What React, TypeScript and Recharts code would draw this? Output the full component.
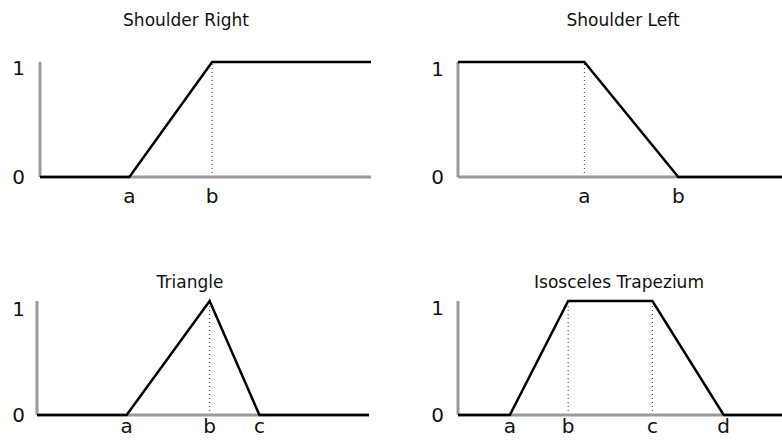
import React from "react";
import { LineChart, Line, XAxis, YAxis, ReferenceLine } from "recharts";

// Shoulder Right
const srX = [0, 2.7, 5.2, 10];
const srY = [0, 0, 1, 1];
const srTicks = [2.7, 5.2];
const srLabels = ["a", "b"];
const srGuides = [5.2];

// Shoulder Left
const slX = [0, 3.9, 6.8, 10];
const slY = [1, 1, 0, 0];
const slTicks = [3.9, 6.8];
const slLabels = ["a", "b"];
const slGuides = [3.9];

// Triangle
const triX = [0, 2.7, 5.2, 6.7, 10];
const triY = [0, 0, 1, 0, 0];
const triTicks = [2.7, 5.2, 6.7];
const triLabels = ["a", "b", "c"];
const triGuides = [5.2];

// Isosceles Trapezium
const trapX = [0, 1.6, 3.4, 6.0, 8.2, 10];
const trapY = [0, 0, 1, 1, 0, 0];
const trapTicks = [1.6, 3.4, 6.0, 8.2];
const trapLabels = ["a", "b", "c", "d"];
const trapGuides = [3.4, 6.0];

const yTicks = [0, 1];

const FONT = "'DejaVu Sans', Verdana, sans-serif";
const AXIS_GREY = "#999";

interface PanelProps {
  title: string;
  xs: number[];
  ys: number[];
  ticks: number[];
  labels: string[];
  guides: number[];
  left: number;
  top: number;
  width: number;
  height: number;
  yAxisWidth: number;
  xAxisHeight: number;
  marginTop: number;
  marginRight: number;
  titleX: number;
  titleY: number;
  labelDy: number;
  oneDy: number;
  yGap: number;
}

const Panel = (p: PanelProps) => {
  const data = p.xs.map((x, i) => ({ x, y: p.ys[i] }));

  const renderX = (props: any) => {
    const idx = p.ticks.indexOf(props.payload.value);
    return (
      <text x={props.x} y={props.y + p.labelDy} textAnchor="middle" fontSize={20} fontFamily={FONT} fill="#111">
        {p.labels[idx]}
      </text>
    );
  };

  const renderY = (props: any) => {
    const v = props.payload.value;
    return (
      <text x={props.x - p.yGap} y={props.y + (v === 1 ? p.oneDy : 7.3)} textAnchor="end" fontSize={20} fontFamily={FONT} fill="#111">
        {v}
      </text>
    );
  };

  return (
    <>
      <div
        style={{
          position: "absolute",
          left: p.titleX,
          top: p.titleY,
          transform: "translateX(-50%)",
          whiteSpace: "nowrap",
          fontFamily: FONT,
          fontSize: 17,
          lineHeight: "17px",
          color: "#111"
        }}
      >
        {p.title}
      </div>
      <div style={{ position: "absolute", left: p.left, top: p.top }}>
        <LineChart
          width={p.width}
          height={p.height}
          data={data}
          margin={{ top: p.marginTop, right: p.marginRight, left: 0, bottom: 0 }}
        >
          <XAxis
            dataKey="x"
            type="number"
            domain={[0, 10]}
            ticks={p.ticks}
            tick={renderX}
            tickLine={false}
            tickSize={0}
            tickMargin={0}
            height={p.xAxisHeight}
            axisLine={{ stroke: AXIS_GREY, strokeWidth: 3 }}
            interval={0}
          />
          <YAxis
            type="number"
            domain={[0, 1]}
            ticks={yTicks}
            tick={renderY}
            tickLine={false}
            tickSize={0}
            tickMargin={0}
            width={p.yAxisWidth}
            axisLine={{ stroke: AXIS_GREY, strokeWidth: 3 }}
            interval={0}
          />
          {p.guides.map((g) => (
            <ReferenceLine key={g} x={g} stroke="#333" strokeDasharray="1 3" strokeWidth={1} />
          ))}
          <Line
            type="linear"
            dataKey="y"
            stroke="#000"
            strokeWidth={2.5}
            dot={false}
            activeDot={false}
            isAnimationActive={false}
            zIndex={900}
          />
        </LineChart>
      </div>
    </>
  );
};

export default function App() {
  return (
    <div style={{ position: "absolute", left: 0, top: 0, width: 782, height: 442, background: "#fff" }}>
      <Panel
        title="Shoulder Right"
        xs={srX} ys={srY} ticks={srTicks} labels={srLabels} guides={srGuides}
        left={0} top={0} width={391} height={221}
        yAxisWidth={40} xAxisHeight={44} marginTop={62} marginRight={20}
        titleX={186} titleY={12} labelDy={26} oneDy={12.8} yGap={15}
      />
      <Panel
        title="Shoulder Left"
        xs={slX} ys={slY} ticks={slTicks} labels={slLabels} guides={slGuides}
        left={391} top={0} width={391} height={221}
        yAxisWidth={67} xAxisHeight={44} marginTop={62} marginRight={0}
        titleX={623} titleY={12} labelDy={26} oneDy={13.5} yGap={14}
      />
      <Panel
        title="Triangle"
        xs={triX} ys={triY} ticks={triTicks} labels={triLabels} guides={triGuides}
        left={0} top={221} width={391} height={221}
        yAxisWidth={37} xAxisHeight={27} marginTop={80} marginRight={22}
        titleX={190} titleY={274} labelDy={18} oneDy={15} yGap={12}
      />
      <Panel
        title="Isosceles Trapezium"
        xs={trapX} ys={trapY} ticks={trapTicks} labels={trapLabels} guides={trapGuides}
        left={391} top={221} width={391} height={221}
        yAxisWidth={67} xAxisHeight={27} marginTop={80} marginRight={0}
        titleX={619} titleY={274} labelDy={18} oneDy={14} yGap={14}
      />
    </div>
  );
}
